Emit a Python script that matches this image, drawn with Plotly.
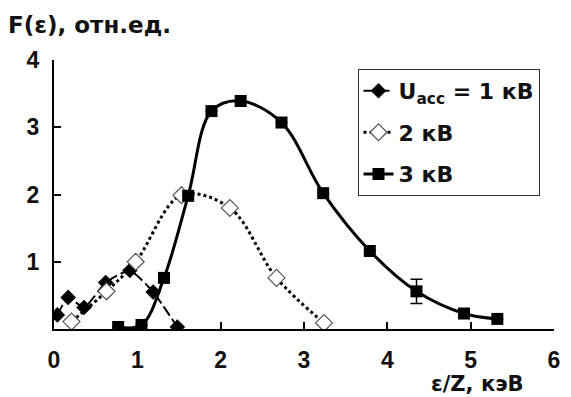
import plotly.graph_objects as go

# Data
x1 = [0.04, 0.17, 0.36, 0.62, 0.91, 1.19, 1.48]
y1 = [0.21, 0.47, 0.32, 0.69, 0.87, 0.55, 0.03]

x2 = [0.21, 0.63, 0.98, 1.53, 2.11, 2.67, 3.24]
y2 = [0.11, 0.56, 1.00, 1.99, 1.80, 0.76, 0.09]

x3 = [0.77, 1.05, 1.32, 1.61, 1.89, 2.24, 2.73, 3.23, 3.79, 4.35, 4.92, 5.32]
y3 = [0.03, 0.06, 0.76, 1.98, 3.24, 3.39, 3.07, 2.02, 1.16, 0.56, 0.23, 0.15]
err3 = [None, None, None, None, None, None, None, None, None, 0.18, None, None]

names = ["U<sub>acc</sub> = 1 кВ", "2 кВ", "3 кВ"]
x_ticks = [0, 1, 2, 3, 4, 5, 6]
y_ticks = [1, 2, 3, 4]

FONT = "Liberation Sans, Arial, sans-serif"
WIDE = "DejaVu Sans, sans-serif"
INK = "#111"

fig = go.Figure()
fig.add_trace(go.Scatter(
    x=x1, y=y1, name=names[0], mode="lines+markers", legendgroup="a",
    line=dict(color="black", width=2, dash="11px,4px", shape="spline", smoothing=0.5),
    marker=dict(symbol="diamond", size=12, color="black"),
))
fig.add_trace(go.Scatter(
    x=x2, y=y2, name=names[1], mode="lines+markers", legendgroup="b",
    line=dict(color="black", width=3, dash="dot", shape="spline", smoothing=1),
    marker=dict(symbol="diamond", size=13, color="white", line=dict(color="#555", width=1.2)),
))
fig.add_trace(go.Scatter(
    x=x3, y=y3, name=names[2], mode="lines+markers", legendgroup="c",
    line=dict(color="black", width=3, shape="spline", smoothing=1),
    marker=dict(symbol="square", size=12, color="black"),
    error_y=dict(type="data", array=err3, visible=True, color="black", thickness=1.5, width=6),
))

fig.update_layout(
    width=571, height=397,
    margin=dict(l=54, r=11, t=60, b=68),
    paper_bgcolor="white", plot_bgcolor="white",
    font=dict(family=FONT, size=22, color=INK, weight="bold"),
    showlegend=True,
    legend=dict(
        x=0.607, y=0.967, xanchor="left", yanchor="top",
        bordercolor="#333", borderwidth=1, bgcolor="white",
        font=dict(family=WIDE, size=22, color=INK, weight="bold"),
        traceorder="grouped", tracegroupgap=10, itemwidth=30,
    ),
    title=dict(text="F(ε), отн.ед.", x=8/571, xanchor="left", xref="container",
               y=1-25/397, yanchor="middle", yref="container",
               font=dict(family=WIDE, size=23, color=INK, weight="bold")),
)
fig.update_xaxes(
    range=[0, 6], tickvals=x_ticks, ticktext=[str(v) for v in x_ticks],
    showline=True, linecolor="black", linewidth=2, showgrid=False, zeroline=False,
    ticks="inside", ticklen=7, tickwidth=2, tickcolor="black", ticklabelstandoff=9,
    tickfont=dict(family=FONT, size=23, color=INK, weight="bold"),
)
fig.update_yaxes(
    range=[0, 4], tickvals=y_ticks, ticktext=[str(v) for v in y_ticks],
    showline=True, linecolor="black", linewidth=2, showgrid=False, zeroline=False,
    ticks="inside", ticklen=7, tickwidth=2, tickcolor="black", ticklabelstandoff=8,
    tickfont=dict(family=FONT, size=23, color=INK, weight="bold"),
)
fig.add_annotation(
    text="ε/Z, кэВ", xref="paper", yref="paper", x=(483-54)/506, y=(329-384)/269,
    showarrow=False, xanchor="center", yanchor="middle",
    font=dict(family=WIDE, size=21, color=INK, weight="bold"),
)
fig.write_html("out.html")
